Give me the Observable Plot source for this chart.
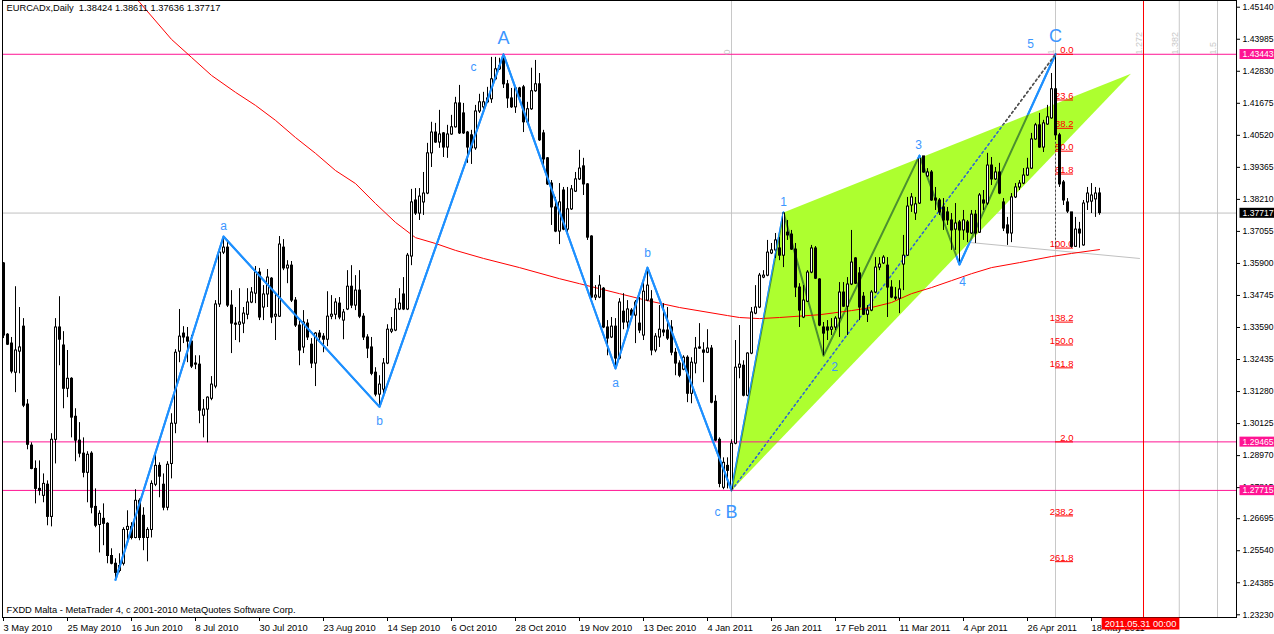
<!DOCTYPE html>
<html><head><meta charset="utf-8">
<script src="https://cdn.jsdelivr.net/npm/d3@7"></script>
<script src="https://cdn.jsdelivr.net/npm/@observablehq/plot@0.6"></script>
<style>
html,body{margin:0;padding:0;background:#fff;overflow:hidden;}
#chart svg{display:block;}
</style></head><body><div id="chart"></div>
<script>
// ---------------- data ----------------
const symbol = "EURCADx", timeframe = "Daily";
const copyright = "FXDD Malta - MetaTrader 4, c 2001-2010 MetaQuotes Software Corp.";

const opens = [
1.3590,1.3333,1.3301,1.3196,1.3272,1.3362,1.3081,1.2933,1.2849,1.2777,
1.2752,1.2792,1.2676,1.2954,1.3359,1.3294,1.3138,1.3174,1.3037,1.2951,
1.2904,1.2835,1.2904,1.2712,1.2647,1.2669,1.2651,1.2535,1.2507,1.2481,
1.2507,1.2629,1.2640,1.2600,1.2734,1.2680,1.2600,1.2629,1.2792,1.2860,
1.2792,1.2709,1.2867,1.3012,1.3272,1.3337,1.3323,1.3308,1.3229,1.3225,
1.3041,1.3063,1.3102,1.3146,1.3442,1.3629,1.3647,1.3438,1.3373,1.3369,
1.3373,1.3405,1.3449,1.3481,1.3557,1.3431,1.3478,1.3535,1.3398,1.3398,
1.3647,1.3572,1.3582,1.3456,1.3366,1.3287,1.3373,1.3297,1.3229,1.3337,
1.3326,1.3315,1.3398,1.3405,1.3445,1.3384,1.3424,1.3506,1.3438,1.3492,
1.3398,1.3323,1.3287,1.3196,1.3117,1.3135,1.3229,1.3344,1.3348,1.3424,
1.3478,1.3424,1.3615,1.3817,1.3770,1.3810,1.3842,1.3987,1.4062,1.4026,
1.4059,1.4008,1.4055,1.4081,1.4167,1.4131,1.4062,1.4052,1.4005,1.4138,
1.4153,1.4171,1.4182,1.4254,1.4290,1.4330,1.4236,1.4185,1.4153,1.4221,
1.4225,1.4099,1.4146,1.4211,1.4236,1.4059,1.3969,1.3878,1.3792,1.3705,
1.3853,1.3712,1.3785,1.3849,1.3893,1.3940,1.3875,1.3687,1.3467,1.3467,
1.3499,1.3359,1.3323,1.3362,1.3247,1.3416,1.3377,1.3420,1.3402,1.3373,
1.3330,1.3456,1.3460,1.3276,1.3323,1.3348,1.3348,1.3359,1.3268,1.3229,
1.3207,1.3250,1.3120,1.3229,1.3287,1.3276,1.3268,1.3283,1.3091,1.2954,
1.2781,1.2860,1.2777,1.2940,1.3214,1.3221,1.3113,1.3265,1.3409,1.3431,
1.3539,1.3546,1.3626,1.3637,1.3644,1.3618,1.3701,1.3694,1.3640,1.3503,
1.3395,1.3452,1.3557,1.3644,1.3532,1.3359,1.3359,1.3351,1.3359,1.3391,
1.3485,1.3434,1.3514,1.3608,1.3554,1.3470,1.3405,1.3420,1.3485,1.3575,
1.3590,1.3582,1.3503,1.3467,1.3463,1.3586,1.3618,1.3799,1.3770,1.3806,
1.3976,1.3904,1.3918,1.3824,1.3817,1.3792,1.3774,1.3745,1.3712,1.3738,
1.3709,1.3738,1.3698,1.3766,1.3701,1.3817,1.3806,1.3943,1.3893,1.3918,
1.3810,1.3727,1.3698,1.3828,1.3864,1.3878,1.3907,1.3932,1.4037,1.4088,
1.4008,1.4091,1.4113,1.4218,1.4052,1.3882,1.3810,1.3774,1.3650,1.3712,
1.3655,1.3810,1.3813,1.3821,1.38424];

const highs = [
1.3593,1.3337,1.3323,1.3506,1.3431,1.3391,1.3099,1.2943,1.2878,1.2878,
1.2831,1.2806,1.2976,1.3391,1.3470,1.3344,1.3276,1.3178,1.3066,1.3016,
1.2961,1.2911,1.2911,1.2777,1.2698,1.2723,1.2655,1.2561,1.2525,1.2543,
1.2637,1.2698,1.2655,1.2774,1.2741,1.2709,1.2637,1.2806,1.2907,1.2871,
1.2831,1.2875,1.3048,1.3279,1.3424,1.3362,1.3359,1.3330,1.3257,1.3257,
1.3099,1.3109,1.3182,1.3456,1.3647,1.3687,1.3673,1.3492,1.3431,1.3499,
1.3431,1.3499,1.3503,1.3579,1.3572,1.3510,1.3568,1.3539,1.3481,1.3687,
1.3676,1.3600,1.3597,1.3467,1.3384,1.3420,1.3387,1.3319,1.3341,1.3348,
1.3337,1.3488,1.3474,1.3463,1.3467,1.3424,1.3564,1.3582,1.3546,1.3564,
1.3409,1.3333,1.3323,1.3214,1.3185,1.3247,1.3369,1.3395,1.3463,1.3499,
1.3539,1.3626,1.3857,1.3860,1.3860,1.3918,1.4023,1.4099,1.4095,1.4142,
1.4062,1.4088,1.4124,1.4189,1.4232,1.4167,1.4066,1.4070,1.4160,1.4200,
1.4207,1.4225,1.4333,1.4333,1.4330,1.4344,1.4250,1.4221,1.4225,1.4225,
1.4232,1.4171,1.4294,1.4322,1.4275,1.4070,1.3972,1.3889,1.3828,1.3878,
1.3864,1.3864,1.3871,1.3918,1.3998,1.3969,1.3878,1.3690,1.3510,1.3546,
1.3503,1.3384,1.3395,1.3391,1.3463,1.3481,1.3456,1.3427,1.3456,1.3467,
1.3517,1.3575,1.3492,1.3337,1.3438,1.3445,1.3431,1.3384,1.3283,1.3239,
1.3257,1.3257,1.3250,1.3323,1.3373,1.3304,1.3351,1.3294,1.3113,1.2961,
1.2889,1.2889,1.2954,1.3312,1.3366,1.3239,1.3268,1.3431,1.3510,1.3554,
1.3564,1.3673,1.3662,1.3698,1.3683,1.3774,1.3745,1.3709,1.3662,1.3517,
1.3510,1.3564,1.3655,1.3651,1.3535,1.3377,1.3384,1.3391,1.3398,1.3521,
1.3521,1.3539,1.3709,1.3611,1.3575,1.3485,1.3438,1.3492,1.3611,1.3611,
1.3618,1.3611,1.3528,1.3503,1.3528,1.3691,1.3828,1.3842,1.3828,1.3979,
1.3976,1.3932,1.3925,1.3864,1.3824,1.3824,1.3792,1.3770,1.3806,1.3745,
1.3781,1.3745,1.3781,1.3781,1.3842,1.3853,1.3987,1.3972,1.3936,1.3951,
1.3824,1.3756,1.3842,1.3878,1.3889,1.3932,1.3969,1.4059,1.4095,1.4131,
1.4106,1.4160,1.4275,1.43443,1.4059,1.3889,1.3824,1.3774,1.3756,1.3738,
1.3817,1.3864,1.3878,1.3864,1.38611];

const lows = [
1.3319,1.3294,1.3192,1.3124,1.3192,1.3070,1.2918,1.2846,1.2723,1.2752,
1.2727,1.2644,1.2640,1.2867,1.3221,1.3066,1.3106,1.2961,1.2875,1.2889,
1.2817,1.2727,1.2687,1.2637,1.2546,1.2572,1.2507,1.2503,1.2449,1.2474,
1.2499,1.2593,1.2593,1.2597,1.2590,1.2554,1.2514,1.2600,1.2785,1.2745,
1.2698,1.2698,1.2813,1.2976,1.3232,1.3301,1.3232,1.3211,1.3207,1.3012,
1.2961,1.2943,1.3095,1.3138,1.3431,1.3622,1.3431,1.3265,1.3312,1.3304,
1.3337,1.3387,1.3445,1.3445,1.3384,1.3384,1.3431,1.3373,1.3312,1.3395,
1.3564,1.3517,1.3449,1.3359,1.3221,1.3265,1.3312,1.3211,1.3146,1.3312,
1.3268,1.3290,1.3387,1.3387,1.3387,1.3315,1.3420,1.3427,1.3420,1.3391,
1.3312,1.3247,1.3185,1.3109,1.3073,1.3113,1.3225,1.3337,1.3344,1.3420,
1.3420,1.3420,1.3582,1.3763,1.3745,1.3763,1.3838,1.3936,1.4023,1.4005,
1.3972,1.3969,1.4052,1.4078,1.4055,1.4055,1.3951,1.3947,1.3998,1.4131,
1.4131,1.4167,1.4167,1.4250,1.4286,1.4221,1.4149,1.4149,1.4131,1.4185,
1.4062,1.4095,1.4142,1.4207,1.4030,1.3932,1.3871,1.3727,1.3701,1.3658,
1.3708,1.3698,1.3781,1.3846,1.3889,1.3835,1.3673,1.3463,1.3456,1.3463,
1.3355,1.3257,1.3319,1.3211,1.3243,1.3351,1.3348,1.3398,1.3301,1.3337,
1.3312,1.3452,1.3257,1.3268,1.3287,1.3326,1.3312,1.3257,1.3185,1.3178,
1.3203,1.3088,1.3084,1.3192,1.3280,1.3160,1.3265,1.3084,1.2947,1.2781,
1.2774,1.2777,1.27715,1.2936,1.3174,1.3109,1.3109,1.3261,1.3405,1.3427,
1.3535,1.3542,1.3622,1.3608,1.3600,1.3575,1.3673,1.3637,1.3467,1.3359,
1.3391,1.3449,1.3553,1.3532,1.3362,1.3257,1.3312,1.3330,1.3348,1.3323,
1.3431,1.3330,1.3510,1.3514,1.3384,1.3402,1.3377,1.3416,1.3481,1.3564,
1.3586,1.3395,1.3463,1.3456,1.3409,1.3492,1.3615,1.3774,1.3745,1.3803,
1.3915,1.3900,1.3814,1.3781,1.3763,1.3709,1.3727,1.3637,1.3637,1.3586,
1.3673,1.3665,1.3694,1.3662,1.3698,1.3781,1.3799,1.3871,1.3889,1.3838,
1.3705,1.3655,1.3665,1.3824,1.3853,1.3874,1.3904,1.3929,1.4034,1.4005,
1.3990,1.4088,1.4110,1.4034,1.3864,1.3799,1.3770,1.3645,1.3648,1.3645,
1.3652,1.3781,1.3770,1.3756,1.37636];

const closes = [
1.3330,1.3297,1.3200,1.3276,1.3287,1.3077,1.2936,1.2849,1.2777,1.2770,
1.2795,1.2676,1.2954,1.3359,1.3315,1.3138,1.3174,1.3034,1.2951,1.2904,
1.2835,1.2900,1.2709,1.2644,1.2687,1.2651,1.2535,1.2507,1.2474,1.2499,
1.2629,1.2640,1.2600,1.2734,1.2600,1.2600,1.2629,1.2795,1.2860,1.2821,
1.2709,1.2864,1.3012,1.3268,1.3326,1.3323,1.3308,1.3218,1.3225,1.3059,
1.3063,1.3106,1.3153,1.3442,1.3629,1.3647,1.3438,1.3373,1.3369,1.3377,
1.3409,1.3449,1.3485,1.3557,1.3395,1.3478,1.3539,1.3395,1.3405,1.3658,
1.3572,1.3582,1.3456,1.3366,1.3276,1.3377,1.3323,1.3229,1.3337,1.3323,
1.3315,1.3398,1.3405,1.3449,1.3395,1.3413,1.3506,1.3438,1.3492,1.3398,
1.3323,1.3283,1.3192,1.3117,1.3153,1.3229,1.3351,1.3351,1.3424,1.3445,
1.3424,1.3618,1.3810,1.3770,1.3831,1.3842,1.3987,1.4062,1.4026,1.4055,
1.4008,1.4055,1.4081,1.4167,1.4059,1.4059,1.4008,1.4005,1.4138,1.4171,
1.4171,1.4185,1.4254,1.4290,1.4301,1.4236,1.4185,1.4153,1.4221,1.4189,
1.4099,1.4146,1.4211,1.4236,1.4034,1.3965,1.3875,1.3792,1.3705,1.3810,
1.3712,1.3785,1.3857,1.3893,1.3932,1.3875,1.3683,1.3467,1.3474,1.3510,
1.3359,1.3319,1.3362,1.3247,1.3449,1.3377,1.3424,1.3402,1.3449,1.3348,
1.3488,1.3510,1.3276,1.3326,1.3351,1.3341,1.3319,1.3268,1.3229,1.3185,
1.3250,1.3120,1.3232,1.3283,1.3283,1.3268,1.3283,1.3088,1.2951,1.2795,
1.2871,1.2842,1.2940,1.3214,1.3225,1.3113,1.3265,1.3413,1.3431,1.3546,
1.3546,1.3629,1.3637,1.3673,1.3618,1.3770,1.3691,1.3640,1.3503,1.3420,
1.3456,1.3557,1.3644,1.3535,1.3366,1.3337,1.3348,1.3359,1.3391,1.3485,
1.3434,1.3514,1.3593,1.3517,1.3431,1.3405,1.3420,1.3485,1.3575,1.3586,
1.3611,1.3503,1.3467,1.3463,1.3496,1.3618,1.3795,1.3828,1.3803,1.3969,
1.3918,1.3918,1.3817,1.3817,1.3774,1.3745,1.3745,1.3709,1.3734,1.3709,
1.3745,1.3701,1.3766,1.3698,1.3835,1.3806,1.3943,1.3893,1.3918,1.3842,
1.3716,1.3698,1.3828,1.3864,1.3878,1.3907,1.3932,1.4037,1.4088,1.4008,
1.4095,1.4117,1.4218,1.4052,1.3875,1.3817,1.3777,1.3650,1.3712,1.3698,
1.3806,1.3842,1.3835,1.3842,1.37717];

// 200-day moving average
const maIdx = [33,34,42,47,52,58,63,68,73,78,83,88,93,98,103,108,113,120,129,139,144,154,161,169,181,184,189,194,204,212,217,222,227,232,237,242,247,254,262,267,274];
const maVal = [1.4547,1.4532,1.4398,1.4333,1.4268,1.4207,1.4160,1.4106,1.4044,1.3987,1.3925,1.3878,1.3806,1.3738,1.3683,1.3662,1.3637,1.3608,1.3575,1.3535,1.3517,1.3481,1.3456,1.3431,1.3402,1.3395,1.3391,1.3395,1.3405,1.3420,1.3431,1.3449,1.3481,1.3503,1.3528,1.3553,1.3575,1.3593,1.3615,1.3626,1.3640];

// Elliott-wave zigzag pivots (bar index, H = high / L = low)
const zzIdx  = [28, 55, 94, 125, 153, 161, 182, 195, 205, 229, 239, 263];
const zzType = ["L","H","L","H","L","H","L","H","L","H","L","H"];

// Wave labels: text and pivot bar index
const waveText  = ["a","b","c","A","a","b","c","B","1","2","3","4","5","C"];
const wavePivot = [55, 94, 125,125,153,161,182,182,195,205,229,239,263,263];
const waveBig   = [0,0,0,1,0,0,0,1,0,0,0,0,0,1];

// Triangle (filled): B, wave 1, apex
const apexIdx = 281.85, apexPrice = 1.4274;

// Fibonacci retracement C -> low
const fibHigh = 1.43443, fibLow = 1.36454;
const fibLevels = [0, 23.6, 38.2, 50, 61.8, 100, 138.2, 150, 161.8, 200, 238.2, 261.8];
const fibLabels = ["0.0","23.6","38.2","50.0","61.8","100.0","138.2","150.0","161.8","2.0","238.2","261.8"];

// Fibonacci time zones (B -> C)
const fibTimeK = [0, 1, 1.272, 1.382, 1.5];
const fibTimeLabels = ["0", "1", "1.272", "1.382", "1.5"];

// Horizontal magenta levels and the gray trend line
const hLevels = [1.43443, 1.29465, 1.27715];
const trendIdx = [242, 284], trendVal = [1.3665, 1.3608];

// Vertical cursor line
const cursorIdx = 285, cursorLabel = "2011.05.31 00:00";

// Axes
const yTicks = [1.45140,1.43985,1.42830,1.41675,1.40520,1.39365,1.38210,1.37055,1.35900,1.34745,1.33590,1.32435,1.31280,1.30125,1.28970,1.27815,1.26695,1.25540,1.24385,1.23230];
const dateTickIdx = [0,16,32,48,64,80,96,112,128,144,160,176,192,208,224,240,256,272];
const dateLabels = ["3 May 2010","25 May 2010","16 Jun 2010","8 Jul 2010","30 Jul 2010","23 Aug 2010","14 Sep 2010","6 Oct 2010","28 Oct 2010","19 Nov 2010","13 Dec 2010","4 Jan 2011","26 Jan 2011","17 Feb 2011","11 Mar 2011","4 Apr 2011","26 Apr 2011","18 May 2011"];

// ---------------- derived ----------------
const n = opens.length;
const bars = d3.range(n).map(i => ({i, o: opens[i], h: highs[i], l: lows[i], c: closes[i]}));
const ma = maIdx.map((i, k) => ({i, v: maVal[k]}));
const zz = zzIdx.map((i, k) => ({i, p: zzType[k] === "H" ? highs[i] : lows[i]}));
const pivot = i => zz.find(d => d.i === i);
const B = pivot(182), W1 = pivot(195), C = pivot(263);
const tri = [{i: B.i, p: B.p}, {i: W1.i, p: W1.p}, {i: apexIdx, p: apexPrice}];
const fibs = fibLevels.map((l, k) => ({p: fibHigh - l / 100 * (fibHigh - fibLow), label: fibLabels[k]}));
const fibTime = fibTimeK.map((k, j) => ({i: B.i + k * (C.i - B.i), label: fibTimeLabels[j], k}));
const last = bars[n - 1];
const fmt5 = v => v.toFixed(5);
const title = `${symbol},${timeframe}  ${fmt5(last.o)} ${fmt5(last.h)} ${fmt5(last.l)} ${fmt5(last.c)}`;

// ---------------- styles ----------------
const FONT = "Liberation Sans, Arial, sans-serif";
const WAVE = "#3c96ff";
const MAGENTA = "#ff1493";
const TRI = "#adff2f", ZZ = "#1e90ff", BC = "#555555", CURSOR = "#fe0000";
const W_MAG = "#fffffe", W_BLK = "#fefefe", W_DATE = "#fdfdfd";
const labelOffsets = [[0,-10],[0,14],[-30,13],[0,-16],[0,15],[0,-14],[-14,22],[0,22],[0,-10],[11,11],[-1,-10],[3,18],[-25,-10],[0,-18]];

const waveMarks = waveText.map((t, k) => {
  const pv = pivot(wavePivot[k]);
  return Plot.text([pv], {x: "i", y: "p", text: () => t, dx: labelOffsets[k][0], dy: labelOffsets[k][1],
    fill: WAVE, fontSize: waveBig[k] ? 18 : 12});
});

const bull = bars.filter(d => d.c >= d.o);

const plot = Plot.plot({
  width: 1274, height: 634,
  marginLeft: 2, marginRight: 38, marginTop: 0, marginBottom: 17,
  style: {fontFamily: FONT, background: "white"},
  x: {domain: [-0.25, 308.25], axis: null},
  y: {domain: [1.23132, 1.45382], axis: null},
  marks: [
    Plot.frame({fill: "white", stroke: null}),
    Plot.ruleX(fibTime.filter(d => d.k !== 1.272), {x: "i", stroke: "#c8c8c8"}),
    Plot.ruleY([last.c], {stroke: "#c0c0c0"}),
    Plot.line(zz, {x: "i", y: "p", stroke: ZZ, strokeWidth: 2}),
    Plot.line([B, C], {x: "i", y: "p", stroke: BC, strokeDasharray: "2,3"}),
    Plot.line(tri, {x: "i", y: "p", fill: TRI, stroke: "none"}),
    Plot.ruleY(hLevels, {stroke: MAGENTA}),
    Plot.line(trendIdx.map((i, k) => ({i, p: trendVal[k]})), {x: "i", y: "p", stroke: "#c0c0c0", strokeWidth: 1}),
    Plot.line(ma, {x: "i", y: "v", stroke: "#ff0000", strokeWidth: 1, clip: true}),
    Plot.ruleX([C], {x: "i", y1: fibHigh, y2: fibLow, stroke: "#444", strokeDasharray: "2,2"}),
    Plot.ruleY(fibs, {y: "p", x1: C.i, x2: C.i + 4.5, stroke: "#ff0000"}),
    Plot.text(fibs, {y: "p", x: C.i + 4.5, text: "label", textAnchor: "end", lineAnchor: "bottom", dy: -1, fill: "#ff0000", fontSize: 9.5}),
    // candles
    Plot.ruleX(bars, {x: "i", y1: "l", y2: "h", stroke: "black"}),
    Plot.rect(bars, {x1: d => d.i - 0.25, x2: d => d.i + 0.5, y1: "o", y2: "c", fill: "black", insetTop: -0.5, insetBottom: -0.5}),
    Plot.rect(bull, {x1: d => d.i, x2: d => d.i + 0.25, y1: "o", y2: "c", fill: "white", insetTop: 0.5, insetBottom: 0.5}),
    Plot.ruleX([cursorIdx], {stroke: CURSOR}),
    Plot.frame({stroke: "black"}),
    Plot.axisY(yTicks, {anchor: "right", tickSize: 3, tickPadding: 3, tickFormat: fmt5, fontSize: 8.6, label: null}),
    Plot.axisX(dateTickIdx, {anchor: "bottom", tickSize: 4, tickPadding: 3, tickFormat: d => dateLabels[dateTickIdx.indexOf(d)], textAnchor: "start", fontSize: 9.3, label: null}),
    Plot.text(hLevels, {y: d => d, text: fmt5, frameAnchor: "right", dx: 6, textAnchor: "start", fill: W_MAG, fontSize: 8.6}),
    Plot.text([last.c], {y: d => d, text: fmt5, frameAnchor: "right", dx: 6, textAnchor: "start", fill: W_BLK, fontSize: 8.6}),
    Plot.text([cursorIdx], {x: d => d, text: () => cursorLabel, frameAnchor: "bottom", dy: 9, dx: -3, textAnchor: "middle", fill: W_DATE, fontSize: 9.3}),
    Plot.text(fibTime, {x: "i", text: "label", frameAnchor: "top", dy: 54, dx: -8, rotate: -90, textAnchor: "start", fill: "#c8c8c8", fontSize: 9}),
    ...waveMarks,
    Plot.text([title], {frameAnchor: "top-left", dx: 4, dy: 4, lineAnchor: "top", textAnchor: "start", fill: "black", fontSize: 9.3}),
    Plot.text([copyright], {frameAnchor: "bottom-left", dx: 4, dy: -5, lineAnchor: "bottom", textAnchor: "start", fill: "black", fontSize: 9.3})
  ]
});

document.getElementById("chart").append(plot);

// ---------------- post-processing ----------------
const NS = "http://www.w3.org/2000/svg";
const svg = plot.tagName.toLowerCase() === "svg" ? plot : plot.querySelector("svg");

try {
  const triG = svg.querySelector(`g[fill="${TRI}"]`);
  const triPath = triG.querySelector("path");
  const triD = triPath.getAttribute("d");
  const t = [triG.getAttribute("transform"), triPath.getAttribute("transform")].filter(Boolean).join(" ");
  const defs = document.createElementNS(NS, "defs");
  // inside clip
  const cpIn = document.createElementNS(NS, "clipPath");
  cpIn.setAttribute("id", "triIn");
  const pIn = document.createElementNS(NS, "path");
  pIn.setAttribute("d", triD);
  if (t) pIn.setAttribute("transform", t);
  cpIn.append(pIn);
  // outside clip
  const cpOut = document.createElementNS(NS, "clipPath");
  cpOut.setAttribute("id", "triOut");
  const pOut = document.createElementNS(NS, "path");
  pOut.setAttribute("d", "M-20,-20H1300V700H-20Z" + triD);
  pOut.setAttribute("clip-rule", "evenodd");
  if (t) pOut.setAttribute("transform", t);
  cpOut.append(pOut);
  defs.append(cpIn, cpOut);
  svg.prepend(defs);

  const makeClone = (col, color, clipId) => {
    const g = svg.querySelector(`g[stroke="${col}"]`);
    const clone = g.cloneNode(true);
    clone.setAttribute("stroke", color);
    clone.querySelectorAll("path,line").forEach(e => { if (e.hasAttribute("stroke")) e.setAttribute("stroke", color); });
    const wrap = document.createElementNS(NS, "g");
    wrap.setAttribute("clip-path", `url(#${clipId})`);
    wrap.append(clone);
    return wrap;
  };
  // lines seen through the triangle
  let anchor = triG;
  [[ZZ, "#4c902f"], [BC, "#2a62d6"]].forEach(([col, color]) => {
    const w = makeClone(col, color, "triIn");
    anchor.after(w); anchor = w;
  });
  // lines drawn over the candles outside the triangle
  const cursorG = svg.querySelector(`g[stroke="${CURSOR}"]`);
  [[ZZ, ZZ], [BC, BC]].forEach(([col, color]) => {
    const w = makeClone(col, color, "triOut");
    cursorG.before(w);
  });
} catch (e) { console.error(e); }

function boxify(fillKey, color, opts) {
  svg.querySelectorAll(`g[fill="${fillKey}"] text`).forEach(t => {
    const b = t.getBBox();
    const r = document.createElementNS(NS, "rect");
    r.setAttribute("x", b.x - opts.padL);
    r.setAttribute("y", b.y - opts.padT);
    r.setAttribute("width", opts.width != null ? opts.width : b.width + opts.padL + opts.padR);
    r.setAttribute("height", b.height + opts.padT + opts.padB);
    r.setAttribute("fill", color);
    if (t.getAttribute("transform")) r.setAttribute("transform", t.getAttribute("transform"));
    t.parentNode.insertBefore(r, t);
  });
}
try {
  boxify(W_MAG, MAGENTA, {padL: 3, padR: 0, padT: 0, padB: 0, width: 40});
  boxify(W_BLK, "#000", {padL: 3, padR: 0, padT: 0, padB: 0, width: 40});
  boxify(W_DATE, "#ff0000", {padL: 3, padR: 3, padT: 1, padB: 1});
} catch (e) { console.error(e); }
</script>
</body></html>
